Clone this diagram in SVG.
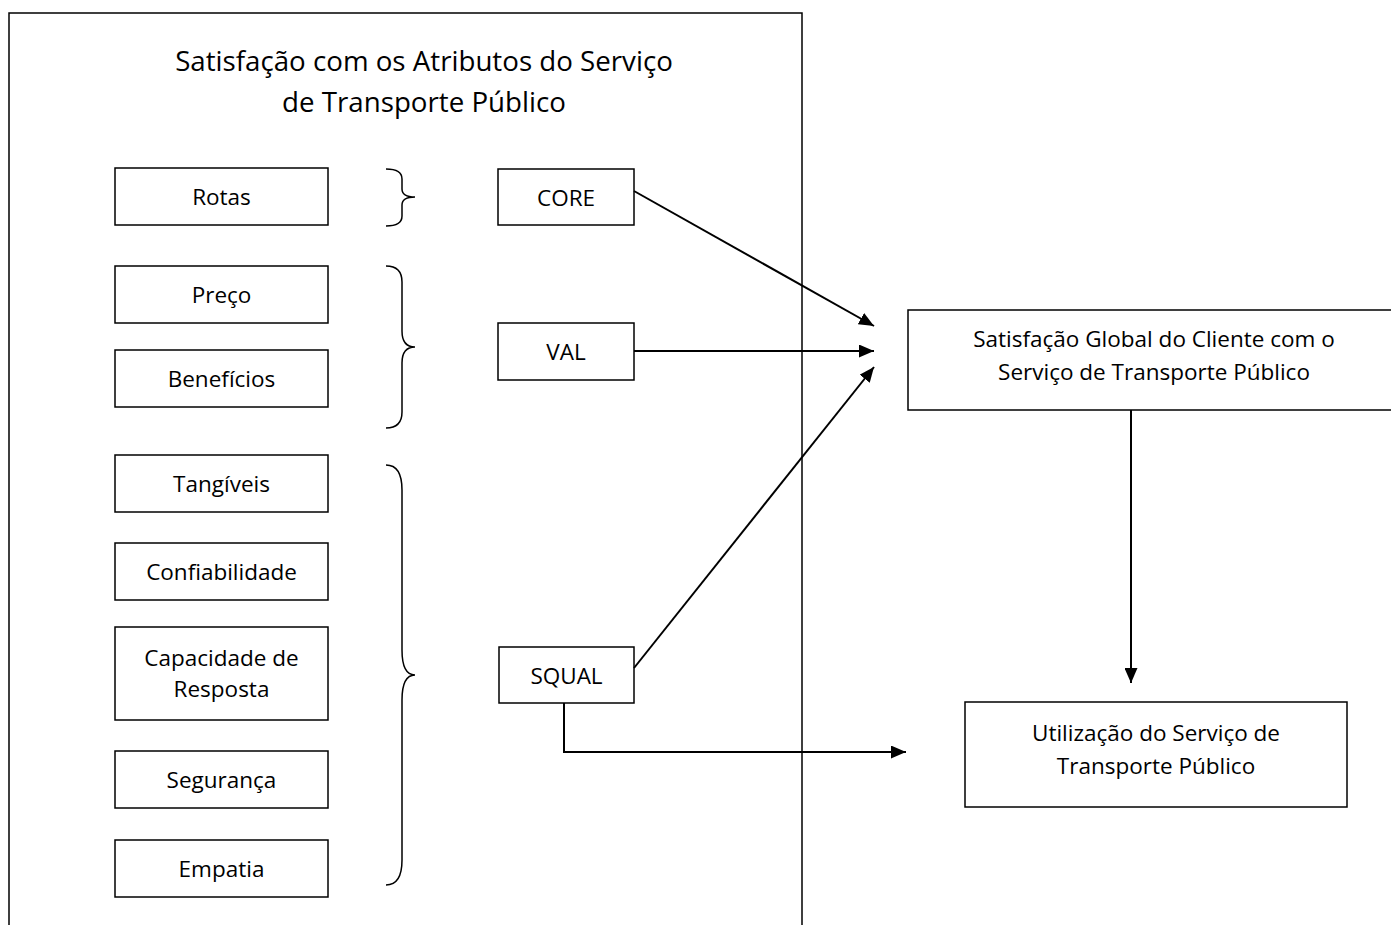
<svg xmlns="http://www.w3.org/2000/svg" width="1391" height="925" viewBox="0 0 1391 925">
<style>
.box{fill:#fff;stroke:#000;stroke-width:1.5}
.t{font-family:"Open Sans","Liberation Sans",sans-serif;font-size:22.5px;fill:#000;text-anchor:middle;dominant-baseline:central}
.title{font-size:27.7px}
.ln{fill:none;stroke:#000;stroke-width:2}
.br{fill:none;stroke:#000;stroke-width:1.5}
</style>
<defs>
<marker id="ah" viewBox="0 0 15 13" refX="15" refY="6.5" markerWidth="15" markerHeight="13" markerUnits="userSpaceOnUse" orient="auto">
<path d="M0,0 L15,6.5 L0,13 Z" fill="#000"/>
</marker>
</defs>
<rect width="1391" height="925" fill="#fff"/>
<g id="frame">
<path class="br" d="M9,925 V13 H802 V925"/>
<text class="t title" x="424" y="60">Satisfação com os Atributos do Serviço</text>
<text class="t title" x="424" y="101">de Transporte Público</text>
</g>
<g id="rotas"><rect class="box" x="115" y="168" width="213" height="57"/><text class="t" x="221.5" y="196.5">Rotas</text></g>
<g id="preco"><rect class="box" x="115" y="266" width="213" height="57"/><text class="t" x="221.5" y="294.5">Preço</text></g>
<g id="beneficios"><rect class="box" x="115" y="350" width="213" height="57"/><text class="t" x="221.5" y="378.5">Benefícios</text></g>
<g id="tangiveis"><rect class="box" x="115" y="455" width="213" height="57"/><text class="t" x="221.5" y="483.5">Tangíveis</text></g>
<g id="confiabilidade"><rect class="box" x="115" y="543" width="213" height="57"/><text class="t" x="221.5" y="571.5">Confiabilidade</text></g>
<g id="capacidade"><rect class="box" x="115" y="627" width="213" height="93"/><text class="t" x="221.5" y="657">Capacidade de</text><text class="t" x="221.5" y="688">Resposta</text></g>
<g id="seguranca"><rect class="box" x="115" y="751" width="213" height="57"/><text class="t" x="221.5" y="779.5">Segurança</text></g>
<g id="empatia"><rect class="box" x="115" y="840" width="213" height="57"/><text class="t" x="221.5" y="868.5">Empatia</text></g>
<g id="braces">
<path class="br" d="M386,169 Q402,169 402,179 V189 Q402,197 415,197 Q402,197 402,205 V216 Q402,226 386,226"/>
<path class="br" d="M386,266 Q402,266 402,282 V331 Q402,347 415,347 Q402,347 402,363 V412 Q402,428 386,428"/>
<path class="br" d="M386,465 Q402,465 402,490 V650 Q402,675 415,675 Q402,675 402,700 V860 Q402,885 386,885"/>
</g>
<g id="core"><rect class="box" x="498" y="169" width="136" height="56"/><text class="t" x="566" y="197">CORE</text></g>
<g id="val"><rect class="box" x="498" y="323" width="136" height="57"/><text class="t" x="566" y="351.5">VAL</text></g>
<g id="squal"><rect class="box" x="499" y="647" width="135" height="56"/><text class="t" x="566.5" y="675">SQUAL</text></g>
<g id="global"><rect class="box" x="908" y="310" width="490" height="100"/><text class="t" x="1154" y="338">Satisfação Global do Cliente com o</text><text class="t" x="1154" y="371">Serviço de Transporte Público</text></g>
<g id="utilizacao"><rect class="box" x="965" y="702" width="382" height="105"/><text class="t" x="1156" y="732">Utilização do Serviço de</text><text class="t" x="1156" y="765">Transporte Público</text></g>
<g id="connectors">
<line class="ln" x1="634" y1="191" x2="874" y2="326" marker-end="url(#ah)"/>
<line class="ln" x1="634" y1="351" x2="874" y2="351" marker-end="url(#ah)"/>
<line class="ln" x1="634" y1="668" x2="874" y2="367" marker-end="url(#ah)"/>
<polyline class="ln" points="564,703 564,752 906,752" marker-end="url(#ah)"/>
<line class="ln" x1="1131" y1="410" x2="1131" y2="683" marker-end="url(#ah)"/>
</g>
</svg>
